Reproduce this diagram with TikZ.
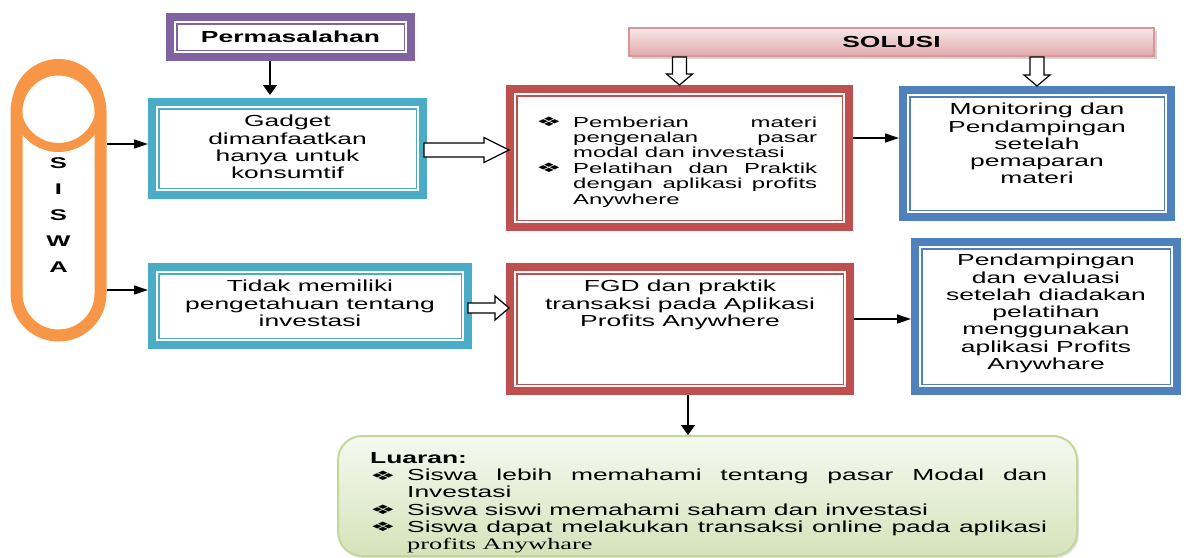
\documentclass[tikz,border=0pt]{standalone}
\usepackage{fontspec}
\setmainfont[FakeStretch=1.65]{Liberation Sans}
\newfontfamily\serifpart[FakeStretch=1.65]{Liberation Serif}
\newfontfamily\bulfont[FakeStretch=2.2]{DejaVu Sans}
\usepackage{xcolor}
\usepackage{tikz}
\usetikzlibrary{positioning, calc, arrows.meta, shadows}

\definecolor{purpleline}{HTML}{8064A2}
\definecolor{cyanline}{HTML}{4BACC6}
\definecolor{redline}{HTML}{C0504D}
\definecolor{blueline}{HTML}{4F81BD}
\definecolor{orangeline}{HTML}{F79646}
\definecolor{pinkline}{HTML}{D99694}
\definecolor{pinktop}{HTML}{F8E9E9}
\definecolor{pinkbottom}{HTML}{E0A9A8}
\definecolor{greenline}{HTML}{C3D69B}
\definecolor{greentop}{HTML}{F6F9F0}
\definecolor{greenbottom}{HTML}{D5E3BA}

\setlength{\parindent}{0pt}
\newcommand{\solitem}[1]{\par\hangindent=#1\hangafter=1\noindent\makebox[#1][l]{\raisebox{0.5pt}{\fontsize{13}{13}\bulfont ❖}}}

\tikzset{
    dblbox/.style={draw=#1, line width=8pt, fill=white, inner sep=0pt,
        path picture={\draw[#1, line width=1.5pt]
            ([shift={(6.75pt,6.75pt)}]path picture bounding box.south west) rectangle
            ([shift={(-6.75pt,-6.75pt)}]path picture bounding box.north east);}},
    txt/.style={inner sep=0pt, align=center, font=\fontsize{16}{17.3}\selectfont},
    arr/.style={line width=1.3pt, -{Triangle[length=14pt,width=9pt]}},
    varr/.style={line width=1.3pt, -{Triangle[length=10pt,width=14pt]}},
    fatr/.style args={#1/#2/#3}{draw=black, line width=1.2pt, fill=white,
        to path={let \p1=(\tikztostart), \p2=(\tikztotarget) in
            (\x1,{\y1+#1}) -- ({\x2-#3},{\y1+#1}) -- ({\x2-#3},{\y1+#2}) -- (\x2,\y1)
            -- ({\x2-#3},{\y1-#2}) -- ({\x2-#3},{\y1-#1}) -- (\x1,{\y1-#1}) -- cycle}},
    fatd/.style args={#1/#2/#3}{draw=black, line width=1.2pt, fill=white,
        to path={let \p1=(\tikztostart), \p2=(\tikztotarget) in
            ({\x1-#1},\y1) -- ({\x1-#1},{\y2+#3}) -- ({\x1-#2},{\y2+#3}) -- (\x1,\y2)
            -- ({\x1+#2},{\y2+#3}) -- ({\x1+#1},{\y2+#3}) -- ({\x1+#1},\y1) -- cycle}},
}

\begin{document}
\begin{tikzpicture}[x=1pt, y=-1pt]
    \useasboundingbox (0,0) rectangle (1186,557);

    % siswa
    \node[draw=orangeline, line width=12pt, rounded corners=41.9pt, minimum width=84pt, minimum height=266pt, inner sep=0pt] (siswa) at (58.5,202.5) {};
    \draw[orangeline, line width=9pt] ($(siswa.north)+(0,42)$) circle[radius=42pt];
    \node[txt, font=\fontsize{15.5}{26}\selectfont\bfseries, below=94pt of siswa.north] (siswalbl) {S\\I\\S\\W\\A};

    % permasalahan
    \node[dblbox=purpleline, minimum width=241pt, minimum height=40pt, font=\fontsize{16}{17.3}\selectfont\bfseries] (masalah) at (290.5,37) {Permasalahan};
    \node[dblbox=cyanline, minimum width=271pt, minimum height=93pt] (gadget) at (287.5,148.5) {};
    \node[txt, below=17pt of gadget.north] (gadgettxt) {Gadget\\dimanfaatkan\\hanya untuk\\konsumtif};
    \node[dblbox=cyanline, minimum width=316pt, minimum height=78pt] (tidak) at (310,306) {};
    \node[txt, below=17pt of tidak.north] (tidaktxt) {Tidak memiliki\\pengetahuan tentang\\investasi};

    % solusi
    \node[draw=pinkline, line width=2pt, top color=pinktop, bottom color=pinkbottom,
        drop shadow={shadow xshift=3pt, shadow yshift=-3pt, opacity=0.35},
        minimum width=525pt, minimum height=28pt, inner sep=0pt,
        font=\fontsize{16}{17.3}\selectfont\bfseries] (solusi) at (891.5,42) {SOLUSI};
    \node[dblbox=redline, minimum width=339pt, minimum height=138pt] (materi) at (679.5,158) {};
    \node[txt, align=justify, text width=281pt, font=\fontsize{14.5}{15.4}\selectfont,
        below right=26.5pt and 30pt of materi.north west] (materitxt)
        {\solitem{37pt}Pemberian materi\linebreak pengenalan pasar\linebreak modal dan investasi
         \solitem{37pt}Pelatihan dan Praktik\linebreak dengan aplikasi profits\linebreak Anywhere\par};
    \node[dblbox=redline, minimum width=340pt, minimum height=124pt] (fgd) at (680,329) {};
    \node[txt, below=17pt of fgd.north] (fgdtxt) {FGD dan praktik\\transaksi pada Aplikasi\\Profits Anywhere};
    \node[dblbox=blueline, minimum width=268pt, minimum height=127pt] (monitor) at (1037,153.5) {};
    \node[txt, below=17pt of monitor.north] (monitortxt) {Monitoring dan\\Pendampingan\\setelah\\pemaparan\\materi};
    \node[dblbox=blueline, minimum width=262pt, minimum height=149pt] (evaluasi) at (1046,316.5) {};
    \node[txt, below=16pt of evaluasi.north] (evaluasitxt) {Pendampingan\\dan evaluasi\\setelah diadakan\\pelatihan\\menggunakan\\aplikasi Profits\\Anywhare};

    % luaran
    \node[draw=greenline, line width=2pt, rounded corners=24pt, top color=greentop, bottom color=greenbottom,
        drop shadow={shadow xshift=2pt, shadow yshift=-2pt, opacity=0.25},
        minimum width=739pt, minimum height=120pt, inner sep=0pt] (luaran) at (707.5,496) {};
    \node[txt, align=justify, text width=677pt, below right=17pt and 33pt of luaran.north west] (luarantxt)
        {\textbf{Luaran:}
         \solitem{37pt}Siswa lebih memahami tentang pasar Modal dan\linebreak Investasi
         \solitem{37pt}Siswa siswi memahami saham dan investasi
         \solitem{37pt}Siswa dapat melakukan transaksi online pada aplikasi\linebreak {\serifpart profits Anywhare}\par};

    % arrows
    \coordinate (drop) at ($(masalah.south)+(-20.5,0)$);
    \draw[varr] (drop) -- ($(drop |- gadget.north)+(0,-3)$);
    \draw[arr] ($(siswa.east |- gadget.west)+(0,-4.5)$) -- ($(gadget.west)+(0,-4.5)$);
    \draw[arr] ($(siswa.east |- tidak.west)+(0,-16)$) -- ($(tidak.west)+(0,-16)$);
    \draw[fatr=7pt/12.5pt/25pt] ($(gadget.east)+(-3,1.5)$) to ($(materi.west)+(3,-8)$);
    \draw[fatr=5pt/12pt/14pt] ($(tidak.east)+(-4,2)$) to ($(fgd.west)+(3,-21)$);
    \draw[fatd=7pt/13pt/11pt] (materi.north |- solusi.south) to (materi.north);
    \draw[fatd=7pt/13pt/11pt] (monitor.north |- solusi.south) to (monitor.north);
    \draw[arr] ($(materi.east)+(0,-20)$) -- ($(materi.east -| monitor.west)+(0,-20)$);
    \draw[arr] ($(fgd.east)+(0,-10)$) -- ($(fgd.east -| evaluasi.west)+(0,-10)$);
    \coordinate (dropb) at ($(fgd.south)+(8,0)$);
    \draw[varr] (dropb) -- (dropb |- luaran.north);
\end{tikzpicture}
\end{document}
